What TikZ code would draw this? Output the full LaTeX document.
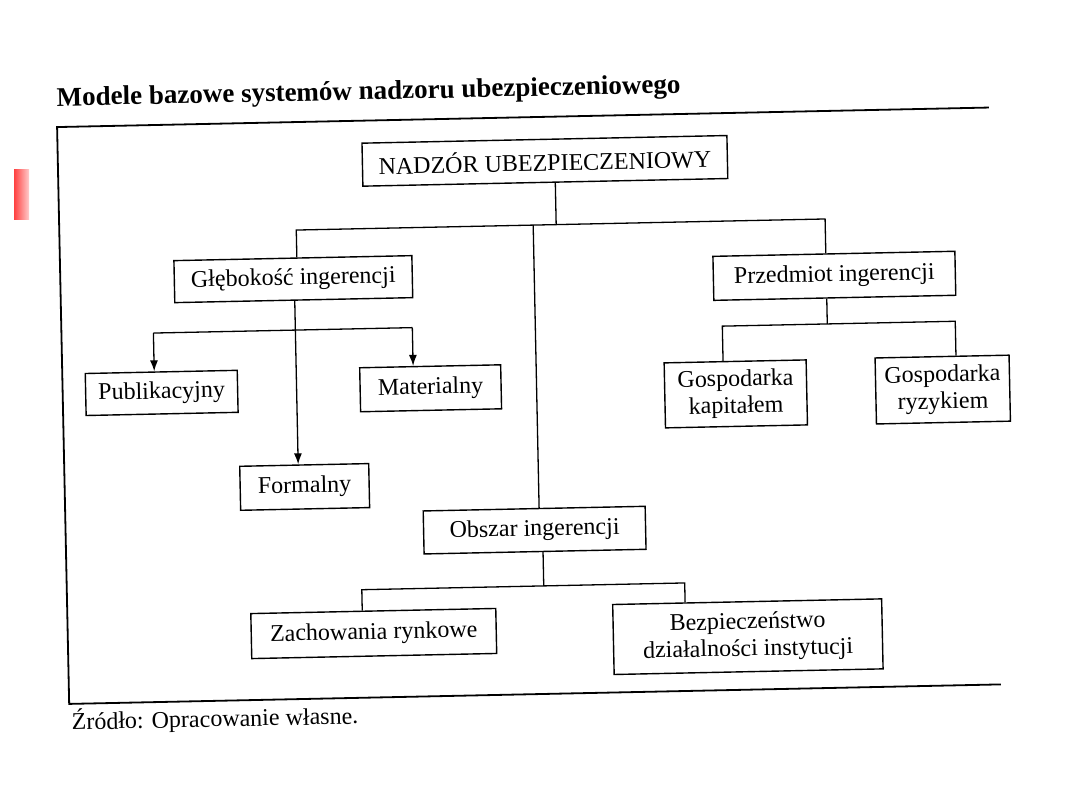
\documentclass[tikz,border=0pt]{standalone}
\usepackage{fontspec}
\setmainfont{Liberation Serif}
\usetikzlibrary{arrows.meta}
\begin{document}
\begin{tikzpicture}[x=1pt,y=-1pt,
  box/.style={draw, line width=1.4pt, inner sep=0pt, align=center,
              font=\fontsize{24}{27}\selectfont},
  conn/.style={line width=1.3pt},
  arr/.style={conn, -{Latex[length=11pt,width=8pt]}},
  frameline/.style={line width=1.8pt}]
\useasboundingbox (0,0) rectangle (1080,810);
\shade[left color=red!75, right color=red!20] (14,170) rectangle (29,220);
\begin{scope}[rotate around={1.2:(540,405)}, transform shape]
  % title and frame
  \node[anchor=base west, inner sep=0pt, font=\bfseries\fontsize{27}{30}\selectfont] (title) at (63,96)
    {Modele bazowe systemów nadzoru ubezpieczeniowego};
  \draw[frameline] (995,117) -- (63,117) -- (63,694) -- (995,694);
  \node[anchor=base west, inner sep=0pt, font=\fontsize{24}{27}\selectfont] (src) at (65,720)
    {Źródło: Opracowanie własne.};

  % boxes
  \node[box, minimum width=365pt, minimum height=43pt] (nadzor) at (550,161) {NADZÓR UBEZPIECZENIOWY};
  \node[box, minimum width=238pt, minimum height=42pt] (gleb) at (296,274) {Głębokość ingerencji};
  \node[box, minimum width=152pt, minimum height=42pt] (publ) at (162,385) {Publikacyjny};
  \node[box, minimum width=141pt, minimum height=44pt] (mat) at (431,386) {Materialny};
  \node[box, minimum width=129pt, minimum height=44pt] (form) at (303,482) {Formalny};
  \node[box, minimum width=242pt, minimum height=44pt] (przed) at (837,282) {Przedmiot ingerencji};
  \node[box, minimum width=142pt, minimum height=65pt] (gkap) at (736,398) {Gospodarka\\kapitałem};
  \node[box, minimum width=134pt, minimum height=66pt] (gryz) at (943,398) {Gospodarka\\ryzykiem};
  \node[box, minimum width=222pt, minimum height=43pt] (obszar) at (532,530) {Obszar ingerencji};
  \node[box, minimum width=245pt, minimum height=45pt] (zach) at (369,630) {Zachowania rynkowe};
  \node[box, minimum width=269pt, minimum height=70pt] (bezp) at (743,641) {Bezpieczeństwo\\działalności instytucji};

  % junction coordinates
  \coordinate (t0) at (560,225);
  \coordinate (tl) at (300,225);
  \coordinate (tm) at (537,225);
  \coordinate (tr) at (829,225);
  \coordinate (gx) at (297,325);
  \coordinate (pl) at (155,325);
  \coordinate (pr) at (414,325);
  \coordinate (p0) at (829,330);
  \coordinate (pa) at (724,330);
  \coordinate (pb) at (957,330);
  \coordinate (o0) at (540,586);
  \coordinate (oa) at (358,586);
  \coordinate (ob) at (681,586);

  % connectors
  \draw[conn] (nadzor.south -| t0) -- (t0);
  \draw[conn] (gleb.north -| tl) -- (tl) -- (tr) -- (przed.north -| tr);
  \draw[conn] (tm) -- (obszar.north -| tm);
  \draw[arr] (gleb.south -| gx) -- (form.north -| gx);
  \draw[conn] (pl) -- (pr);
  \draw[arr] (pl) -- (publ.north -| pl);
  \draw[arr] (pr) -- (mat.north -| pr);
  \draw[conn] (przed.south -| p0) -- (p0);
  \draw[conn] (gkap.north -| pa) -- (pa) -- (pb) -- (gryz.north -| pb);
  \draw[conn] (obszar.south -| o0) -- (o0);
  \draw[conn] (zach.north -| oa) -- (oa) -- (ob) -- (bezp.north -| ob);
\end{scope}
\end{tikzpicture}
\end{document}
